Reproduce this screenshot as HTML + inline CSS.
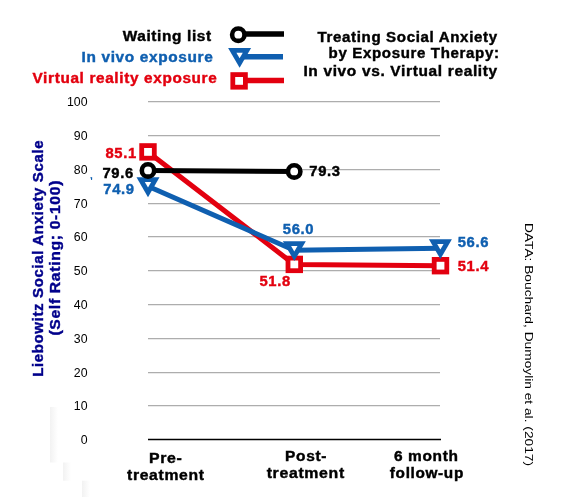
<!DOCTYPE html>
<html><head><meta charset="utf-8">
<style>
html,body{margin:0;padding:0;background:#fff;}
body{width:570px;height:497px;overflow:hidden;position:relative;}
svg{position:absolute;left:0;top:0;will-change:transform;}
.b{font-family:"Liberation Sans",sans-serif;font-weight:bold;stroke-width:0.4px;letter-spacing:0.6px;}
.r{font-family:"Liberation Sans",sans-serif;}
</style></head><body>
<svg width="570" height="497" viewBox="0 0 570 497">
<defs><linearGradient id="fg" x1="0" x2="1" y1="0" y2="0"><stop offset="0" stop-color="#f2f2f2"/><stop offset="1" stop-color="#ffffff"/></linearGradient></defs>
<rect x="50" y="407" width="8" height="55.5" fill="url(#fg)"/>
<rect x="63" y="462.5" width="8" height="18.2" fill="url(#fg)"/>
<rect x="82" y="480.7" width="8" height="16.3" fill="url(#fg)"/>
<!-- gridlines -->
<g stroke="#adadad" stroke-width="1.25">
<line x1="148" x2="440" y1="101.5" y2="101.5"/>
<line x1="148" x2="440" y1="135.5" y2="135.5"/>
<line x1="148" x2="440" y1="169.5" y2="169.5"/>
<line x1="148" x2="440" y1="203.5" y2="203.5"/>
<line x1="148" x2="440" y1="236.5" y2="236.5"/>
<line x1="148" x2="440" y1="270.5" y2="270.5"/>
<line x1="148" x2="440" y1="304.5" y2="304.5"/>
<line x1="148" x2="440" y1="338.5" y2="338.5"/>
<line x1="148" x2="440" y1="372.5" y2="372.5"/>
<line x1="148" x2="440" y1="405.5" y2="405.5"/>
</g>
<line x1="148" x2="441" y1="439.5" y2="439.5" stroke="#000" stroke-width="1.6"/>

<!-- y labels -->
<g class="r" font-size="12.3" fill="#000" text-anchor="end">
<text x="87.5" y="106">100</text>
<text x="87.5" y="140">90</text>
<text x="87.5" y="174">80</text>
<text x="87.5" y="208">70</text>
<text x="87.5" y="241">60</text>
<text x="87.5" y="275">50</text>
<text x="87.5" y="309">40</text>
<text x="87.5" y="343">30</text>
<text x="87.5" y="377">20</text>
<text x="87.5" y="410">10</text>
<text x="87.5" y="444">0</text>
</g>

<!-- red series -->
<polyline points="148,151.9 294.2,264.4 440.4,265.8" fill="none" stroke="#e3000f" stroke-width="5" stroke-linejoin="round"/>
<g fill="#fff" stroke="#e3000f" stroke-width="4.8">
<rect x="141.70" y="145.60" width="12.6" height="12.6"/>
<rect x="288.00" y="258.10" width="12.6" height="12.6"/>
<rect x="434.20" y="259.40" width="12.6" height="12.6"/>
</g>
<!-- blue series -->
<polyline points="148,186.3 294.2,250.2 440.4,248.2" fill="none" stroke="#0f5fb0" stroke-width="5" stroke-linejoin="round"/>
<g id="tri">
<path fill="#0f5fb0" d="M136.50,177.30 L159.50,177.30 L148.00,197.22 Z"/><path fill="#fff" d="M144.81,182.10 L151.19,182.10 L148.00,187.62 Z"/>
<path fill="#0f5fb0" d="M282.80,241.20 L305.80,241.20 L294.30,261.12 Z"/><path fill="#fff" d="M291.11,246.00 L297.49,246.00 L294.30,251.52 Z"/>
<path fill="#0f5fb0" d="M428.90,239.20 L451.90,239.20 L440.40,259.12 Z"/><path fill="#fff" d="M437.21,244.00 L443.59,244.00 L440.40,249.52 Z"/>
</g>
<!-- black series -->
<line x1="148" y1="170.45" x2="294.2" y2="171.47" stroke="#000" stroke-width="5"/>
<g fill="#fff" stroke="#000" stroke-width="4.6">
<circle cx="148" cy="170.45" r="6.2"/>
<circle cx="294.2" cy="171.47" r="6.2"/>
</g>

<!-- legend -->
<line x1="238" y1="34" x2="284" y2="34" stroke="#000" stroke-width="5.5"/>
<circle cx="238.3" cy="34.7" r="6.2" fill="#fff" stroke="#000" stroke-width="4.6"/>
<line x1="239" y1="56.7" x2="283" y2="56.7" stroke="#0f5fb0" stroke-width="5.5"/>
<path fill="#0f5fb0" d="M228.10,47.90 L251.10,47.90 L239.60,67.82 Z"/><path fill="#fff" d="M236.41,52.70 L242.79,52.70 L239.60,58.22 Z"/>
<line x1="239" y1="80.5" x2="284" y2="80.5" stroke="#e3000f" stroke-width="5.5"/>
<rect x="232.80" y="74.60" width="12.6" height="12.6" fill="#fff" stroke="#e3000f" stroke-width="4.8"/>

<g class="b" font-size="14" text-anchor="end">
<text id="t_wl" x="211.83" y="40.8" fill="#000" stroke="#000" textLength="89.18" lengthAdjust="spacingAndGlyphs">Waiting list</text>
<text id="t_iv" x="213.50" y="61.9" fill="#0f5fb0" stroke="#0f5fb0" textLength="132.00" lengthAdjust="spacingAndGlyphs">In vivo exposure</text>
<text id="t_vr" x="217.40" y="82.6" fill="#e3000f" stroke="#e3000f" textLength="184.90" lengthAdjust="spacingAndGlyphs">Virtual reality exposure</text>
</g>
<!-- title -->
<g class="b" font-size="14" text-anchor="end" fill="#000" stroke="#000">
<text id="t_ti1" x="497.75" y="41.7" textLength="180.35" lengthAdjust="spacingAndGlyphs">Treating Social Anxiety</text>
<text id="t_ti2" x="499.60" y="58.3" textLength="171.00" lengthAdjust="spacingAndGlyphs">by Exposure Therapy:</text>
<text id="t_ti3" x="497.90" y="75.9" textLength="194.48" lengthAdjust="spacingAndGlyphs">In vivo vs. Virtual reality</text>
</g>

<!-- data labels -->
<g class="b" font-size="14">
<text id="d1" x="105.40" y="157.9" fill="#e3000f" stroke="#e3000f" textLength="31.37" lengthAdjust="spacingAndGlyphs">85.1</text>
<text id="d2" x="102.40" y="178.2" fill="#000" stroke="#000" textLength="31.37" lengthAdjust="spacingAndGlyphs">79.6</text>
<text id="d3" x="103.28" y="194.2" fill="#0f5fb0" stroke="#0f5fb0" textLength="31.37" lengthAdjust="spacingAndGlyphs">74.9</text>
<text id="d4" x="309.30" y="176" fill="#000" stroke="#000" textLength="31.37" lengthAdjust="spacingAndGlyphs">79.3</text>
<text id="d5" x="282.80" y="233.9" fill="#0f5fb0" stroke="#0f5fb0" textLength="31.37" lengthAdjust="spacingAndGlyphs">56.0</text>
<text id="d6" x="259.40" y="286" fill="#e3000f" stroke="#e3000f" textLength="31.37" lengthAdjust="spacingAndGlyphs">51.8</text>
<text id="d7" x="457.68" y="246.9" fill="#0f5fb0" stroke="#0f5fb0" textLength="31.37" lengthAdjust="spacingAndGlyphs">56.6</text>
<text id="d8" x="457.68" y="270.7" fill="#e3000f" stroke="#e3000f" textLength="31.37" lengthAdjust="spacingAndGlyphs">51.4</text>
</g>

<!-- x labels -->
<g class="b" font-size="14" fill="#000" stroke="#000" text-anchor="middle">
<text id="x1a" x="165.78" y="462.8" textLength="33.55" lengthAdjust="spacingAndGlyphs">Pre-</text>
<text id="x1b" x="165.80" y="479.5" textLength="77.63" lengthAdjust="spacingAndGlyphs">treatment</text>
<text id="x2a" x="306.05" y="460.7" textLength="41.91" lengthAdjust="spacingAndGlyphs">Post-</text>
<text id="x2b" x="305.78" y="477.7" textLength="78.23" lengthAdjust="spacingAndGlyphs">treatment</text>
<text id="x3a" x="426.28" y="460.7" textLength="64.73" lengthAdjust="spacingAndGlyphs">6 month</text>
<text id="x3b" x="426.88" y="477.7" textLength="74.07" lengthAdjust="spacingAndGlyphs">follow-up</text>
</g>

<!-- y title -->
<g class="b" font-size="14" fill="#00008b" stroke="#00008b" text-anchor="middle">
<text id="yt1" transform="translate(42.8,258.30) rotate(-90)" x="0" y="0" textLength="237.15" lengthAdjust="spacingAndGlyphs">Liebowitz Social Anxiety Scale</text>
<text id="yt2" transform="translate(60.3,257.77) rotate(-90)" x="0" y="0" textLength="155.71" lengthAdjust="spacingAndGlyphs">(Self Rating; 0-100)</text>
</g>

<!-- data source -->
<text id="src" class="r" font-size="11.3" fill="#000" text-anchor="middle" transform="translate(525,344.48) rotate(90)" x="0" y="0" textLength="243.07" lengthAdjust="spacingAndGlyphs">DATA: Bouchard, Dumoylin et al. (2017)</text>

<!-- tiny tick -->
<path d="M90.4,177 L92.2,177.2 L92.1,180 L91.2,180 Z" fill="#0f5fb0"/>
</svg>
</body></html>
